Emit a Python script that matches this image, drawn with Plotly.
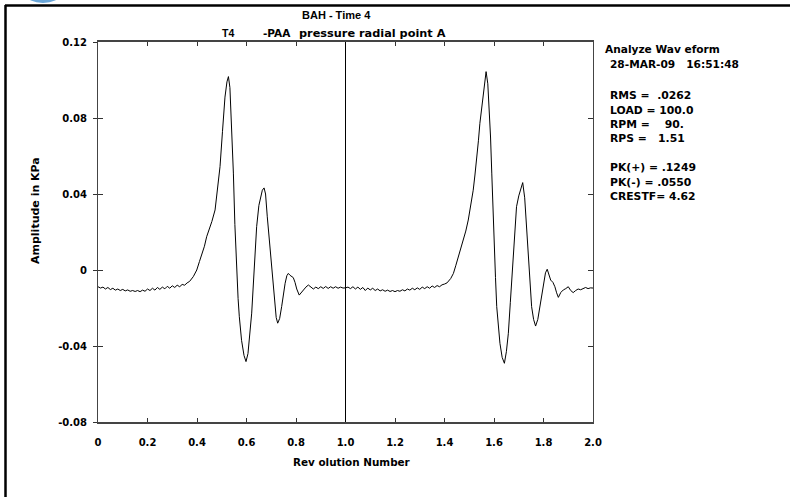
import plotly.graph_objects as go

# ---- waveform samples (revolution number, amplitude in KPa) ----
rev = [
    0.00, 0.01, 0.02, 0.03, 0.04, 0.05, 0.06, 0.07, 0.08, 0.09,
    0.10, 0.11, 0.12, 0.13, 0.14, 0.15, 0.16, 0.17, 0.18, 0.19,
    0.20, 0.21, 0.22, 0.23, 0.24, 0.25, 0.26, 0.27, 0.28, 0.29,
    0.30, 0.31, 0.32, 0.33, 0.34, 0.35, 0.36, 0.37,
    0.385, 0.399, 0.41, 0.419, 0.43, 0.439, 0.45, 0.46, 0.473, 0.483,
    0.493, 0.503, 0.513, 0.521, 0.527, 0.533, 0.540, 0.547, 0.553, 0.560,
    0.566, 0.571, 0.580, 0.590, 0.598, 0.606, 0.613, 0.621, 0.631, 0.641,
    0.650, 0.657, 0.664, 0.671, 0.677, 0.684, 0.693, 0.702, 0.709, 0.715,
    0.720, 0.726, 0.734, 0.742, 0.750, 0.756, 0.763, 0.769, 0.776, 0.783,
    0.789, 0.796, 0.803, 0.813, 0.821, 0.830, 0.840, 0.850,
    0.86, 0.87, 0.88, 0.89, 0.90, 0.91, 0.92, 0.93, 0.94, 0.95,
    0.96, 0.97, 0.98, 0.99, 1.00,
    1.01, 1.02, 1.03, 1.04, 1.05, 1.06, 1.07, 1.08, 1.09, 1.10,
    1.11, 1.12, 1.13, 1.14, 1.15, 1.16, 1.17, 1.18, 1.19, 1.20,
    1.21, 1.22, 1.23, 1.24, 1.25, 1.26, 1.27, 1.28, 1.29, 1.30,
    1.31, 1.32, 1.33, 1.34, 1.35, 1.36, 1.37, 1.38, 1.39, 1.40, 1.41,
    1.425, 1.436, 1.446, 1.456, 1.466, 1.476, 1.486, 1.496, 1.506, 1.516,
    1.523, 1.530, 1.537, 1.543, 1.550, 1.557, 1.563, 1.568, 1.575, 1.581,
    1.586, 1.591, 1.596, 1.600, 1.606, 1.611, 1.617, 1.624, 1.633, 1.642,
    1.650, 1.658, 1.666, 1.675, 1.683, 1.691, 1.700, 1.708, 1.716, 1.724,
    1.732, 1.742, 1.752, 1.760, 1.768, 1.777, 1.786, 1.794, 1.802, 1.808,
    1.815, 1.822, 1.829, 1.838, 1.846, 1.853, 1.860, 1.870, 1.880, 1.890,
    1.900, 1.910, 1.920, 1.930, 1.940, 1.950, 1.960, 1.970, 1.980, 1.990, 2.000,
]
amp = [
    -0.0088, -0.0095, -0.0090, -0.0100, -0.0092, -0.0103, -0.0096, -0.0106, -0.0100, -0.0108,
    -0.0102, -0.0110, -0.0105, -0.0112, -0.0108, -0.0113, -0.0108, -0.0114, -0.0106, -0.0112,
    -0.0100, -0.0108, -0.0096, -0.0106, -0.0092, -0.0102, -0.0090, -0.0099, -0.0086, -0.0096,
    -0.0083, -0.0092, -0.0080, -0.0088, -0.0076, -0.0080, -0.0068, -0.0060,
    -0.0035, 0.0000, 0.0045, 0.0079, 0.0125, 0.0175, 0.0215, 0.0255, 0.0316, 0.0420,
    0.0544, 0.0730, 0.0910, 0.0990, 0.1018, 0.0960, 0.0760, 0.0510, 0.0240, -0.0018,
    -0.0150, -0.0246, -0.0370, -0.0450, -0.0482, -0.0440, -0.0350, -0.0227, 0.0000, 0.0228,
    0.0340, 0.0386, 0.0420, 0.0432, 0.0400, 0.0280, 0.0140, 0.0000, -0.0110, -0.0193,
    -0.0250, -0.0280, -0.0255, -0.0193, -0.0120, -0.0070, -0.0030, -0.0018, -0.0028, -0.0035,
    -0.0040, -0.0065, -0.0100, -0.0132, -0.0118, -0.0105, -0.0090, -0.0079,
    -0.0092, -0.0100, -0.0090, -0.0098, -0.0088, -0.0097, -0.0087, -0.0097, -0.0088, -0.0096,
    -0.0088, -0.0096, -0.0090, -0.0095, -0.0094,
    -0.0090, -0.0098, -0.0088, -0.0100, -0.0090, -0.0102, -0.0092, -0.0108, -0.0095, -0.0105,
    -0.0096, -0.0108, -0.0100, -0.0110, -0.0104, -0.0112, -0.0106, -0.0113, -0.0108, -0.0114,
    -0.0108, -0.0112, -0.0104, -0.0110, -0.0100, -0.0106, -0.0096, -0.0104, -0.0094, -0.0102,
    -0.0090, -0.0098, -0.0088, -0.0096, -0.0084, -0.0092, -0.0082, -0.0088, -0.0078, -0.0074, -0.0068,
    -0.0045, -0.0018, 0.0025, 0.0070, 0.0115, 0.0158, 0.0205, 0.0263, 0.0335, 0.0420,
    0.0500, 0.0580, 0.0680, 0.0772, 0.0850, 0.0895, 0.0990, 0.1044, 0.0980, 0.0860,
    0.0700, 0.0510, 0.0310, 0.0123, -0.0040, -0.0193, -0.0300, -0.0386, -0.0460, -0.0491,
    -0.0430, -0.0333, -0.0170, 0.0018, 0.0180, 0.0333, 0.0390, 0.0420, 0.0460, 0.0380,
    0.0228, 0.0010, -0.0193, -0.0260, -0.0295, -0.0260, -0.0193, -0.0120, -0.0053, -0.0015,
    0.0004, -0.0025, -0.0053, -0.0065, -0.0088, -0.0120, -0.0144, -0.0118, -0.0105, -0.0098,
    -0.0088, -0.0108, -0.0119, -0.0108, -0.0100, -0.0104, -0.0096, -0.0092, -0.0098, -0.0094, -0.0095,
]

# ---- axis ticks ----
x_tickvals = [0, 0.2, 0.4, 0.6, 0.8, 1.0, 1.2, 1.4, 1.6, 1.8, 2.0]
x_ticktext = ["0", "0.2", "0.4", "0.6", "0.8", "1.0", "1.2", "1.4", "1.6", "1.8", "2.0"]
y_tickvals = [0.12, 0.08, 0.04, 0, -0.04, -0.08]
y_ticktext = ["0.12", "0.08", "0.04", "0", "-0.04", "-0.08"]

# ---- header and statistics panel text ----
title_line1 = "BAH - Time 4"
title_parts = ["T4", "-PAA", "pressure radial point A"]
panel_head = ["Analyze Wav eform", "28-MAR-09   16:51:48"]
panel_stats = ["RMS =  .0262", "LOAD = 100.0", "RPM =    90.", "RPS =   1.51"]
panel_peaks = ["PK(+) = .1249", "PK(-) = .0550", "CRESTF= 4.62"]

W, H = 790, 497
L, R, T, B = 98, 593, 42, 422   # plot box in pixels
WIDE = "DejaVu Sans, sans-serif"
NARROW = "Liberation Sans, Arial, sans-serif"


def px(xp):
    return (xp - L) / (R - L)


def py(yp):
    return (B - yp) / (B - T)


fig = go.Figure()
fig.add_trace(go.Scatter(x=rev, y=amp, mode="lines",
                         line=dict(color="black", width=1), showlegend=False,
                         hoverinfo="skip"))
# hidden trace so the outer-tick axis is drawn
fig.add_trace(go.Scatter(x=[0], y=[0], yaxis="y2", mode="markers",
                         marker=dict(opacity=0), showlegend=False, hoverinfo="skip"))

tickfont = dict(family=WIDE, size=10, color="black", weight="bold")

fig.update_layout(
    width=W, height=H, autosize=False,
    margin=dict(l=L, r=W - R, t=T, b=H - B, pad=0),
    paper_bgcolor="white", plot_bgcolor="white",
    xaxis=dict(range=[0, 2.0], tickvals=x_tickvals, ticktext=x_ticktext,
               ticks="inside", ticklen=4, tickcolor="#333", mirror="ticks",
               showline=True, linecolor="#444", linewidth=1.5,
               showgrid=False, zeroline=False, tickfont=tickfont,
               ticklabelstandoff=10),
    yaxis=dict(range=[-0.08, 0.12], tickvals=y_tickvals,
               ticks="inside", ticklen=5, tickcolor="#333", mirror="ticks",
               showline=True, linecolor="#444", linewidth=1,
               showgrid=False, zeroline=False, showticklabels=False),
    yaxis2=dict(range=[-0.08, 0.12], overlaying="y", side="left",
                tickvals=y_tickvals, ticktext=y_ticktext,
                ticks="outside", ticklen=4, tickcolor="#333",
                showline=False, showgrid=False, zeroline=False,
                tickfont=tickfont, ticklabelstandoff=4),
)

# vertical marker at one revolution
fig.add_shape(type="line", xref="x", yref="paper", x0=1.0, x1=1.0, y0=0, y1=1,
              line=dict(color="black", width=1))

# outer frame (top and left edges) and logo fragment
fig.add_shape(type="line", xref="paper", yref="paper",
              x0=px(5), x1=px(792), y0=py(5.5), y1=py(5.5),
              line=dict(color="black", width=2.5))
fig.add_shape(type="line", xref="paper", yref="paper",
              x0=px(5.5), x1=px(5.5), y0=py(5), y1=py(497),
              line=dict(color="black", width=2.5))
fig.add_shape(type="circle", xref="paper", yref="paper",
              x0=px(26), x1=px(60), y0=py(-14), y1=py(3),
              fillcolor="#6aa6d8", line=dict(width=0), layer="above")


def txt(s, x, y, anchor="left", size=11, family=WIDE):
    fig.add_annotation(text=s, xref="paper", yref="paper", x=px(x), y=py(y),
                       xanchor=anchor, yanchor="middle", showarrow=False,
                       font=dict(family=family, size=size, color="black", weight="bold"))


txt(title_line1, 336, 15, anchor="center", size=11, family=NARROW)
txt(title_parts[0], 220, 33, size=10.5, family=NARROW)
txt(title_parts[1], 261, 33, size=10.5)
txt(title_parts[2], 297, 33, size=11.3)

txt(panel_head[0], 603, 49, size=10.6)
txt(panel_head[1], 608, 64, size=10.6)
for s, y in zip(panel_stats, [95, 110, 124, 138]):
    txt(s, 608, y, size=10.8)
for s, y in zip(panel_peaks, [167, 182, 196]):
    txt(s, 608, y, size=10.8)

txt("Rev olution Number", 352, 462, anchor="center", size=10.4)
fig.add_annotation(text="Amplitude in KPa", xref="paper", yref="paper",
                   x=px(35), y=py(211), textangle=-90, showarrow=False,
                   xanchor="center", yanchor="middle",
                   font=dict(family=WIDE, size=11, color="black", weight="bold"))

fig.write_html("out.html")
